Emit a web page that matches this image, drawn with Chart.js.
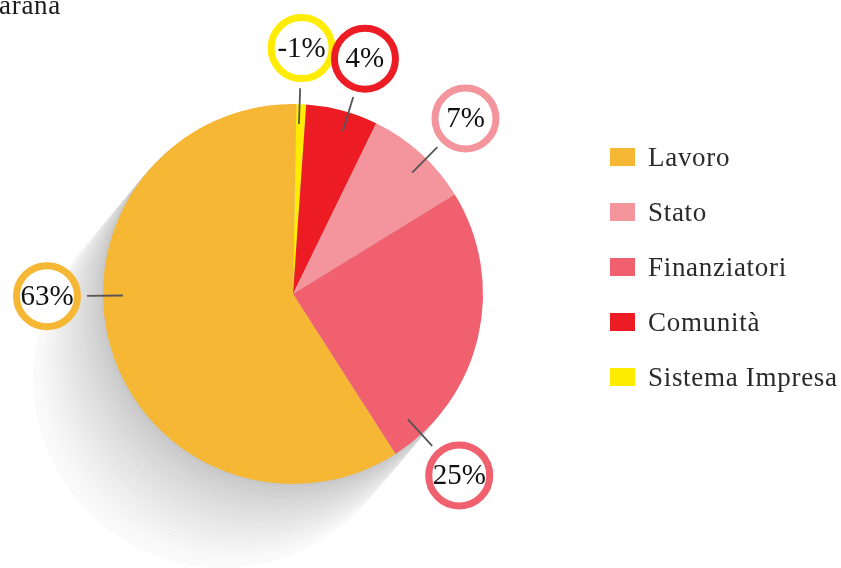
<!DOCTYPE html>
<html><head><meta charset="utf-8">
<script src="https://cdn.jsdelivr.net/npm/chart.js@4.4.1/dist/chart.umd.min.js"></script>
<style>html,body{margin:0;padding:0;background:#fff;}#wrap{width:841px;height:568px;position:relative;}</style>
</head><body><div id="wrap"><canvas id="c" width="841" height="568"></canvas></div>
<script>
// ---- data ----
const categories = ['Sistema Impresa', 'Comunità', 'Stato', 'Finanziatori', 'Lavoro'];
const sliceValues = [0.83, 6.1, 9.0, 24.7, 59.3];
const shareLabels = [-1, 4, 7, 25, 63];
const legendOrder = ['Lavoro', 'Stato', 'Finanziatori', 'Comunità', 'Sistema Impresa'];
const titleText = 'arana';

// ---- styles / placement ----
const colors = ['#FFEC00', '#ED1C24', '#F4959D', '#F0606E', '#F6B735'];
const labelAngles = [2, 17, 44.5, 137.5, 269.5];
const serifFont = '"Liberation Serif", "Times New Roman", serif';

const shadowPlugin = {
  id: 'shadow',
  beforeDatasetsDraw(chart) {
    const arc = chart.getDatasetMeta(0).data[0];
    if (!arc) return;
    const { x, y, outerRadius: R } = arc;
    const ctx = chart.ctx;
    const dx = -70 / 190 * R, dy = 84 / 190 * R;
    const N = 70;
    ctx.save();
    for (let i = N; i >= 1; i--) {
      const t = i / N;
      let g = 196 + 56 * Math.pow(t, 0.75);
      if (i % 2 === 0) g += 3;
      g = Math.min(250, Math.round(g));
      ctx.beginPath();
      ctx.arc(x + dx * t, y + dy * t, R, 0, Math.PI * 2);
      ctx.fillStyle = `rgb(${g},${g},${g})`;
      ctx.fill();
    }
    ctx.restore();
  }
};

const labelPlugin = {
  id: 'labels',
  afterDatasetsDraw(chart) {
    const arc = chart.getDatasetMeta(0).data[0];
    if (!arc) return;
    const { x, y, outerRadius: R } = arc;
    const ctx = chart.ctx;
    const cols = chart.data.datasets[0].backgroundColor;
    ctx.save();
    shareLabels.forEach((v, i) => {
      const a = labelAngles[i] * Math.PI / 180;
      const sx = Math.sin(a), sy = -Math.cos(a);
      ctx.beginPath();
      ctx.moveTo(x + sx * R * 0.895, y + sy * R * 0.895);
      ctx.lineTo(x + sx * R * 1.084, y + sy * R * 1.084);
      ctx.strokeStyle = '#555555';
      ctx.lineWidth = 1.8;
      ctx.stroke();
      const cx = x + sx * R * 1.295, cy = y + sy * R * 1.295;
      ctx.beginPath();
      ctx.arc(cx, cy, 30.5, 0, Math.PI * 2);
      ctx.fillStyle = '#ffffff';
      ctx.fill();
      ctx.lineWidth = 7;
      ctx.strokeStyle = cols[i];
      ctx.stroke();
      ctx.fillStyle = '#111111';
      ctx.font = '29px ' + serifFont;
      ctx.textAlign = 'center';
      ctx.textBaseline = 'middle';
      ctx.fillText(v + '%', cx, cy + 1);
    });
    ctx.restore();
  }
};

const legendPlugin = {
  id: 'customLegend',
  afterDraw(chart) {
    const ctx = chart.ctx;
    const labels = chart.data.labels;
    const cols = chart.data.datasets[0].backgroundColor;
    ctx.save();
    try { ctx.letterSpacing = '0.7px'; } catch (e) {}
    ctx.font = '27px ' + serifFont;
    ctx.textAlign = 'left';
    ctx.textBaseline = 'alphabetic';
    legendOrder.forEach((name, k) => {
      const i = labels.indexOf(name);
      const cy = 157 + k * 55;
      ctx.fillStyle = cols[i];
      ctx.fillRect(610, cy - 9, 25, 18);
      ctx.fillStyle = '#2a2a2a';
      ctx.fillText(name, 648, cy + 9);
    });
    ctx.fillStyle = '#1a1a1a';
    ctx.fillText(titleText, -1, 14);
    ctx.restore();
  }
};

new Chart(document.getElementById('c'), {
  type: 'pie',
  data: {
    labels: categories,
    datasets: [{
      data: sliceValues,
      backgroundColor: colors,
      borderWidth: 0
    }]
  },
  options: {
    responsive: false,
    animation: false,
    devicePixelRatio: 1,
    rotation: 1,
    layout: { padding: { left: 103, right: 358, top: 104, bottom: 84 } },
    plugins: { legend: { display: false }, tooltip: { enabled: false } }
  },
  plugins: [shadowPlugin, labelPlugin, legendPlugin]
});
</script>
</body></html>
